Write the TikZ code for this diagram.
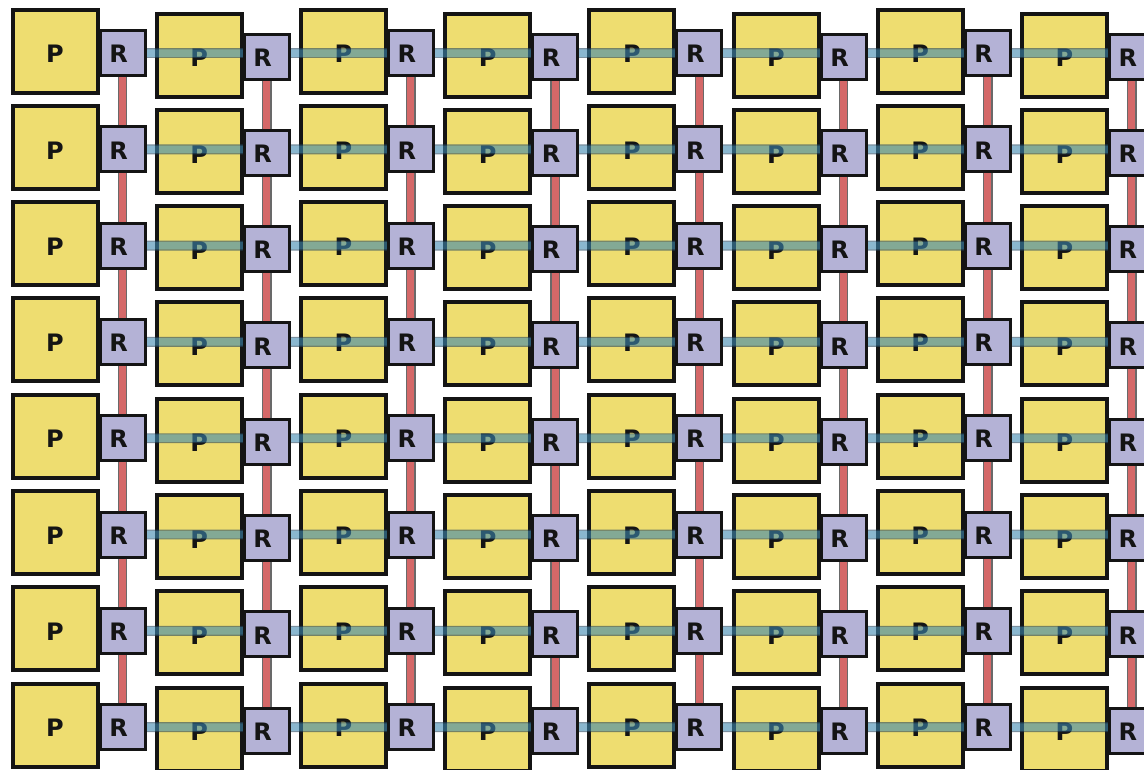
\documentclass[tikz,border=0pt]{standalone}
\usepackage{fontspec}
\setmainfont{DejaVu Sans}
\pgfdeclarelayer{back}
\pgfdeclarelayer{mid}
\pgfsetlayers{back,mid,main}
\definecolor{pyel}{RGB}{238,221,112}
\definecolor{rlav}{RGB}{180,178,214}
\definecolor{bandc}{RGB}{60,135,175}
\definecolor{banded}{RGB}{35,70,95}
\definecolor{redl}{RGB}{212,104,104}
\definecolor{redged}{RGB}{105,105,105}
\definecolor{ink}{RGB}{20,20,20}
\newcommand\labfont{\fontsize{24}{24}\selectfont\bfseries}
\tikzset{
 pbox/.style={draw=ink, line width=4pt, fill=pyel, minimum width=85pt, minimum height=83pt, inner sep=0pt,
   label={[yshift=-3pt,text=ink,font=\labfont,inner sep=0pt]center:P}},
 rbox/.style={draw=ink, line width=3pt, fill=rlav, minimum size=45pt, inner sep=0pt,
   label={[xshift=-4pt,yshift=-1pt,text=ink,font=\labfont,inner sep=0pt]center:R}},
 hlink/.style={draw=banded, line width=1.2pt, double=bandc, double distance=7.5pt},
 vlink/.style={draw=redged, line width=1.3pt, double=redl, double distance=7pt},
}
\begin{document}
\begin{tikzpicture}[x=1pt,y=-1pt]
\useasboundingbox (0,0) rectangle (1144,769);
\clip (0,0) rectangle (1144,769);
\begin{pgfonlayer}{back}
  \fill[white] (0,0) rectangle (1144,769);
\end{pgfonlayer}
\foreach \r in {0,...,7}{
  \coordinate (H-\r) at (0,{53+96.3*\r});
  \foreach \c in {0,...,7}{
    \pgfmathtruncatemacro\odd{mod(\c,2)}
    \pgfmathsetmacro\px{55+144.2*\c}
    \pgfmathsetmacro\rx{122.5+144.2*\c}
    \pgfmathsetmacro\py{51+4*\odd+96.3*\r}
    \pgfmathsetmacro\ry{53+3.5*\odd+96.3*\r}
    \begin{pgfonlayer}{back}
      \node[pbox] (P-\r-\c) at (\px,\py) {};
    \end{pgfonlayer}
    \node[rbox] (R-\r-\c) at (\rx,\ry) {};
  }
}
\begin{pgfonlayer}{mid}
  \foreach \r in {0,...,6}{
    \pgfmathtruncatemacro\rn{\r+1}
    \foreach \c in {0,...,7}{
      \draw[vlink] (R-\r-\c) -- (R-\rn-\c);
    }
  }
  \begin{scope}[transparency group, opacity=0.6]
  \foreach \r in {0,...,7}{
    \foreach \c in {0,...,6}{
      \pgfmathtruncatemacro\cn{\c+1}
      \draw[hlink] (R-\r-\c |- H-\r) -- (R-\r-\cn |- H-\r);
    }
  }
  \end{scope}
\end{pgfonlayer}
\end{tikzpicture}
\end{document}
